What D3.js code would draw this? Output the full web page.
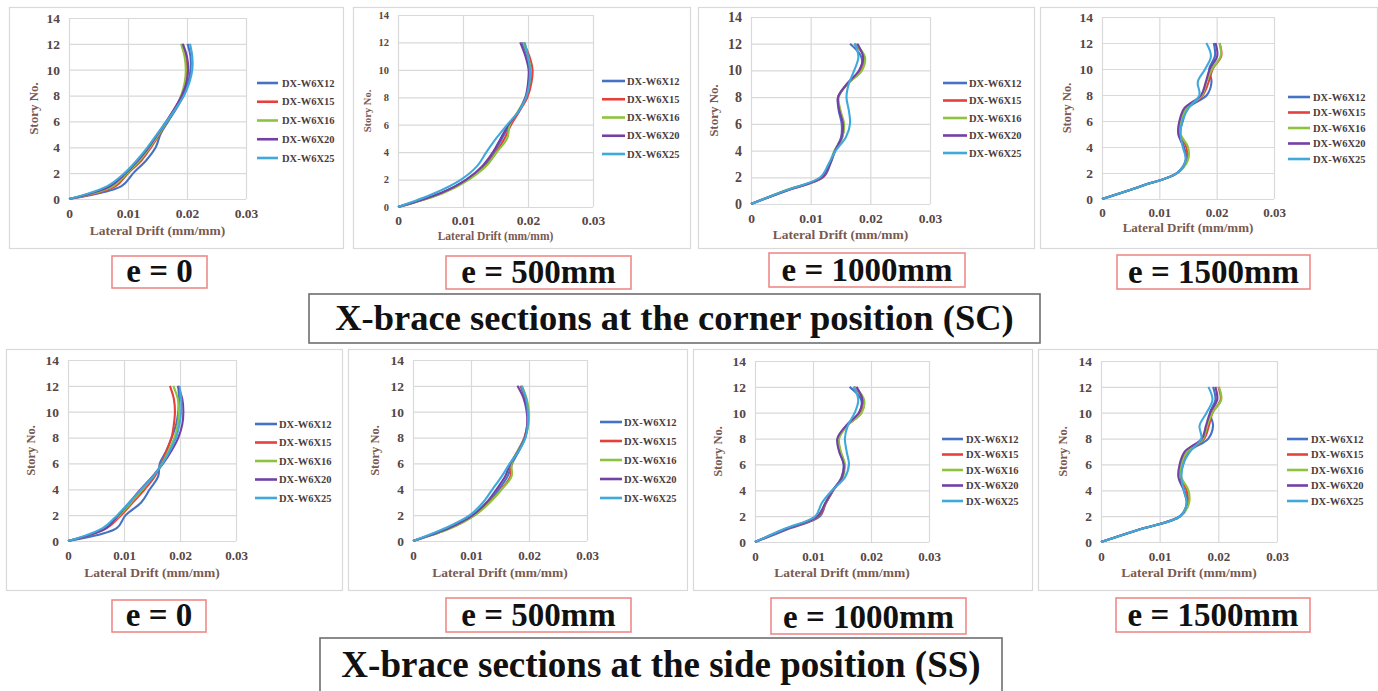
<!DOCTYPE html>
<html>
<head>
<meta charset="utf-8">
<script src="https://cdn.jsdelivr.net/npm/d3@7"></script>
<style>
  body { margin: 0; background: #fff; }
  svg { display: block; }
  text { font-family: "Liberation Serif", "Times New Roman", serif; font-weight: bold; }
</style>
</head>
<body>
<svg id="fig" width="1378" height="691"></svg>
<script>
// ---- data ----------------------------------------------------------------
const stories = [0, 1, 2, 3, 4, 5, 6, 7, 8, 9, 10, 11, 12];
const sections = ["DX-W6X12", "DX-W6X15", "DX-W6X16", "DX-W6X20", "DX-W6X25"];
const sectionColors = ["#4472c4", "#e5403b", "#8cc43f", "#7340a6", "#3fa9dc"];
const driftTicks = [0, 0.01, 0.02, 0.03];
const storyTicks = [0, 2, 4, 6, 8, 10, 12, 14];
const eccentricities = ["e = 0", "e = 500mm", "e = 1000mm", "e = 1500mm"];
const groupTitles = [
  "X-brace sections at the corner position (SC)",
  "X-brace sections at the side position (SS)"
];

// lateral drift per story, one row per section (W6X12, W6X15, W6X16, W6X20, W6X25)
// corner position (SC)
const driftSC0 = [
  [0, .0089, .0109, .0131, .0147, .0155, .0168, .0182, .0194, .0202, .0206, .0206, .0201],
  [0, .0079, .0100, .0123, .0139, .0153, .0165, .0179, .0191, .0198, .0199, .0197, .0191],
  [0, .0075, .0098, .0120, .0137, .0152, .0166, .0180, .0190, .0196, .0198, .0196, .0190],
  [0, .0070, .0096, .0117, .0135, .0150, .0165, .0179, .0191, .0199, .0202, .0200, .0193],
  [0, .0065, .0094, .0115, .0133, .0149, .0165, .0181, .0195, .0204, .0209, .0209, .0205]
];
const driftSC500 = [
  [0, .0066, .0106, .0132, .0148, .0160, .0172, .0186, .0197, .0203, .0204, .0199, .0191],
  [0, .0067, .0108, .0135, .0151, .0164, .0174, .0187, .0199, .0205, .0207, .0202, .0193],
  [0, .0069, .0109, .0136, .0152, .0168, .0172, .0185, .0196, .0202, .0204, .0200, .0193],
  [0, .0065, .0105, .0130, .0146, .0158, .0170, .0186, .0196, .0200, .0201, .0196, .0188],
  [0, .0056, .0097, .0122, .0136, .0151, .0168, .0186, .0197, .0202, .0203, .0200, .0195]
];
const driftSC1000 = [
  [0, .0060, .0121, .0133, .0141, .0151, .0152, .0147, .0146, .0161, .0183, .0185, .0166],
  [0, .0058, .0120, .0132, .0141, .0153, .0155, .0149, .0146, .0162, .0185, .0190, .0173],
  [0, .0056, .0118, .0131, .0140, .0153, .0156, .0150, .0147, .0162, .0186, .0191, .0175],
  [0, .0058, .0119, .0132, .0141, .0152, .0154, .0148, .0146, .0161, .0181, .0188, .0178],
  [0, .0057, .0116, .0130, .0142, .0159, .0166, .0164, .0160, .0164, .0173, .0180, .0174]
];
const driftSC1500 = [
  [0, .0069, .0131, .0147, .0143, .0136, .0141, .0150, .0183, .0191, .0187, .0197, .0195],
  [0, .0069, .0131, .0148, .0147, .0136, .0138, .0149, .0176, .0186, .0193, .0208, .0205],
  [0, .0069, .0132, .0150, .0150, .0137, .0138, .0148, .0175, .0182, .0192, .0207, .0205],
  [0, .0069, .0131, .0146, .0142, .0133, .0135, .0144, .0173, .0181, .0188, .0201, .0198],
  [0, .0069, .0131, .0146, .0141, .0137, .0140, .0151, .0170, .0167, .0180, .0190, .0182]
];
// side position (SS)
const driftSS0 = [
  [0, .0087, .0103, .0131, .0146, .0161, .0164, .0176, .0185, .0193, .0197, .0198, .0197],
  [0, .0069, .0095, .0116, .0137, .0155, .0167, .0176, .0185, .0189, .0191, .0189, .0182],
  [0, .0067, .0092, .0113, .0133, .0152, .0168, .0180, .0190, .0196, .0198, .0196, .0188],
  [0, .0068, .0090, .0110, .0130, .0151, .0170, .0185, .0197, .0204, .0206, .0204, .0196],
  [0, .0062, .0088, .0110, .0131, .0152, .0169, .0182, .0193, .0199, .0202, .0202, .0199]
];
const driftSS500 = [
  [0, .0063, .0105, .0130, .0148, .0163, .0171, .0183, .0193, .0198, .0198, .0194, .0185],
  [0, .0064, .0106, .0132, .0152, .0168, .0170, .0181, .0192, .0197, .0198, .0194, .0186],
  [0, .0066, .0107, .0133, .0153, .0170, .0170, .0181, .0193, .0199, .0200, .0196, .0188],
  [0, .0062, .0103, .0127, .0144, .0159, .0168, .0182, .0193, .0197, .0196, .0191, .0180],
  [0, .0056, .0098, .0121, .0137, .0153, .0167, .0183, .0194, .0198, .0198, .0195, .0187]
];
const driftSS1000 = [
  [0, .0057, .0112, .0122, .0135, .0149, .0153, .0146, .0143, .0158, .0180, .0183, .0163],
  [0, .0054, .0110, .0122, .0135, .0150, .0154, .0147, .0144, .0159, .0183, .0187, .0170],
  [0, .0052, .0108, .0121, .0134, .0151, .0155, .0148, .0145, .0159, .0184, .0188, .0172],
  [0, .0053, .0108, .0121, .0134, .0150, .0153, .0145, .0142, .0157, .0179, .0185, .0175],
  [0, .0050, .0104, .0115, .0133, .0155, .0162, .0158, .0155, .0160, .0172, .0178, .0170]
];
const driftSS1500 = [
  [0, .0068, .0135, .0148, .0142, .0136, .0140, .0150, .0183, .0191, .0186, .0195, .0191],
  [0, .0068, .0135, .0148, .0146, .0136, .0137, .0148, .0176, .0184, .0190, .0204, .0200],
  [0, .0068, .0136, .0150, .0149, .0137, .0137, .0147, .0174, .0181, .0190, .0205, .0201],
  [0, .0068, .0135, .0146, .0141, .0132, .0134, .0143, .0172, .0179, .0186, .0198, .0195],
  [0, .0068, .0135, .0146, .0141, .0137, .0140, .0152, .0171, .0168, .0180, .0190, .0183]
];

// ---- layout --------------------------------------------------------------
// frame: [x0, y0, x1, y1]; plot: [left, top, right, bottom]
const panels = [
  { data: driftSC0,    frame: [9, 7, 343, 248],     plot: [69, 18, 246, 199],
    leg: { x0: 257, x1: 278, tx: 282, y: 83, dy: 18.75 }, yTitleX: 33, xTickY: 218, xTitleY: 235,
    fs: { yt: 13.5, xt: 13.5, xTitle: 13.5, yTitle: 13, leg: 10.5 } },
  { data: driftSC500,  frame: [353, 7, 690, 248],   plot: [398, 15, 593, 207],
    leg: { x0: 602, x1: 625, tx: 627, y: 81, dy: 18.25 }, yTitleX: 367, xTickY: 225, xTitleY: 240,
    fs: { yt: 10.5, xt: 13.5, xTitle: 11.5, yTitle: 10.5, leg: 10.5 } },
  { data: driftSC1000, frame: [698, 7, 1034, 248],  plot: [751, 17, 930, 204],
    leg: { x0: 943, x1: 967, tx: 969, y: 83, dy: 17.5 }, yTitleX: 713, xTickY: 223, xTitleY: 239,
    fs: { yt: 14, xt: 13.5, xTitle: 13.5, yTitle: 13, leg: 10.5 } },
  { data: driftSC1500, frame: [1040, 7, 1377, 248], plot: [1102, 17, 1274, 199],
    leg: { x0: 1288, x1: 1310, tx: 1313, y: 97, dy: 15.5 }, yTitleX: 1067, xTickY: 217, xTitleY: 232,
    fs: { yt: 13.5, xt: 13, xTitle: 13, yTitle: 12.5, leg: 10.5 } },
  { data: driftSS0,    frame: [6, 349, 342, 590],   plot: [68, 360, 236, 541],
    leg: { x0: 255, x1: 277, tx: 279, y: 424, dy: 18.5 }, yTitleX: 31, xTickY: 560, xTitleY: 577,
    fs: { yt: 13.5, xt: 13, xTitle: 13.5, yTitle: 12.5, leg: 10.5 } },
  { data: driftSS500,  frame: [348, 349, 687, 590], plot: [413, 360, 587, 541],
    leg: { x0: 600, x1: 622, tx: 624, y: 422, dy: 19 }, yTitleX: 375, xTickY: 560, xTitleY: 577,
    fs: { yt: 13.5, xt: 13, xTitle: 13.5, yTitle: 12.5, leg: 10.5 } },
  { data: driftSS1000, frame: [693, 349, 1032, 590], plot: [755, 361, 929, 542],
    leg: { x0: 942, x1: 963, tx: 966, y: 439, dy: 15.5 }, yTitleX: 718, xTickY: 561, xTitleY: 577,
    fs: { yt: 13.5, xt: 13, xTitle: 13.5, yTitle: 12.5, leg: 10.5 } },
  { data: driftSS1500, frame: [1038, 349, 1377, 590], plot: [1101, 361, 1277, 542],
    leg: { x0: 1287, x1: 1308, tx: 1311, y: 439, dy: 15.5 }, yTitleX: 1063, xTickY: 561, xTitleY: 577,
    fs: { yt: 13.5, xt: 13, xTitle: 13.5, yTitle: 12.5, leg: 10.5 } }
];

const labelBoxes = [
  [112, 256, 207, 288], [446, 256, 631, 289], [769, 253, 965, 287], [1117, 255, 1310, 289],
  [112, 600, 206, 632], [446, 598, 631, 632], [771, 598, 966, 634], [1116, 598, 1310, 632]
];
const titleBoxes = [[309, 294, 1040, 343, 36.5], [320, 638, 1002, 720, 37]];
const titleBaselines = [330, 677];

const tickColor = "#564646";
const axisTitleColor = "#7a5a50";
const legendColor = "#4a3c3c";
const gridColor = "#d9d9d9";

const svg = d3.select("#fig");

// ---- one drift chart -----------------------------------------------------
function drawPanel(p) {
  const [fx0, fy0, fx1, fy1] = p.frame;
  const [left, top, right, bottom] = p.plot;
  const g = svg.append("g");

  g.append("rect")
    .attr("x", fx0 + 0.5).attr("y", fy0 + 0.5)
    .attr("width", fx1 - fx0).attr("height", fy1 - fy0)
    .attr("fill", "#fff").attr("stroke", gridColor).attr("stroke-width", 1.2);

  const x = d3.scaleLinear().domain([0, 0.03]).range([left, right]);
  const y = d3.scaleLinear().domain([0, 14]).range([bottom, top]);

  // vertical gridlines + x tick labels
  const xAxis = g.append("g").attr("transform", `translate(0,${bottom})`)
    .call(d3.axisBottom(x).tickValues(driftTicks).tickFormat(d => d === 0 ? "0" : d3.format(".2f")(d))
      .tickSize(-(bottom - top)).tickPadding(0));
  xAxis.select(".domain").remove();
  xAxis.selectAll("line").attr("stroke", gridColor).attr("stroke-width", 1.2);
  xAxis.selectAll("text")
    .attr("y", p.xTickY - bottom).attr("dy", null)
    .attr("fill", tickColor).attr("font-size", p.fs.xt)
    .style("font-family", "'Liberation Serif', serif").style("font-weight", "bold");

  // horizontal gridlines + y tick labels
  const yAxis = g.append("g").attr("transform", `translate(${left},0)`)
    .call(d3.axisLeft(y).tickValues(storyTicks).tickSize(-(right - left)).tickPadding(9));
  yAxis.select(".domain").remove();
  yAxis.selectAll("line").attr("stroke", gridColor).attr("stroke-width", 1.2);
  yAxis.selectAll("text")
    .attr("fill", tickColor).attr("font-size", p.fs.yt)
    .style("font-family", "'Liberation Serif', serif").style("font-weight", "bold");

  // axis titles
  g.append("text")
    .attr("x", (left + right) / 2).attr("y", p.xTitleY)
    .attr("text-anchor", "middle").attr("fill", axisTitleColor)
    .attr("font-size", p.fs.xTitle).text("Lateral Drift (mm/mm)");
  g.append("text")
    .attr("transform", `translate(${p.yTitleX},${(top + bottom) / 2}) rotate(-90)`)
    .attr("text-anchor", "middle").attr("dominant-baseline", "central")
    .attr("fill", axisTitleColor).attr("font-size", p.fs.yTitle).text("Story No.");

  // smoothed drift profiles
  const line = d3.line()
    .x(d => x(d[0])).y(d => y(d[1]))
    .curve(d3.curveCatmullRom.alpha(0.5));
  p.data.forEach((row, i) => {
    g.append("path")
      .datum(row.map((v, k) => [v, stories[k]]))
      .attr("d", line)
      .attr("fill", "none")
      .attr("stroke", sectionColors[i])
      .attr("stroke-width", 2.1)
      .attr("stroke-linejoin", "round");
  });

  // legend
  sections.forEach((name, i) => {
    const ly = p.leg.y + i * p.leg.dy;
    g.append("line")
      .attr("x1", p.leg.x0).attr("x2", p.leg.x1).attr("y1", ly).attr("y2", ly)
      .attr("stroke", sectionColors[i]).attr("stroke-width", 2.6);
    g.append("text")
      .attr("x", p.leg.tx).attr("y", ly).attr("dominant-baseline", "central")
      .attr("fill", legendColor).attr("font-size", p.fs.leg).text(name);
  });
}

panels.forEach(drawPanel);

// ---- eccentricity labels -------------------------------------------------
labelBoxes.forEach((b, i) => {
  const [x0, y0, x1, y1] = b;
  svg.append("rect")
    .attr("x", x0).attr("y", y0).attr("width", x1 - x0).attr("height", y1 - y0)
    .attr("fill", "#fff").attr("stroke", "#ef8a8a").attr("stroke-width", 1.6);
  svg.append("text")
    .attr("x", (x0 + x1) / 2).attr("y", y1 - 6.5)
    .attr("text-anchor", "middle").attr("fill", "#111")
    .attr("font-size", 33).text(eccentricities[i % 4]);
});

// ---- group titles --------------------------------------------------------
titleBoxes.forEach((b, i) => {
  const [x0, y0, x1, y1, fs] = b;
  svg.append("rect")
    .attr("x", x0).attr("y", y0).attr("width", x1 - x0).attr("height", y1 - y0)
    .attr("fill", "#fff").attr("stroke", "#6e6e6e").attr("stroke-width", 1.6);
  svg.append("text")
    .attr("x", (x0 + x1) / 2).attr("y", titleBaselines[i])
    .attr("text-anchor", "middle").attr("fill", "#111")
    .attr("font-size", fs).text(groupTitles[i]);
});
</script>
</body>
</html>
